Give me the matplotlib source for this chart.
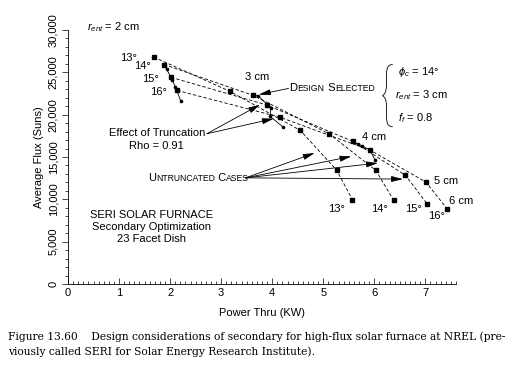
import numpy as np
import matplotlib
matplotlib.use("Agg")
import matplotlib.pyplot as plt
from matplotlib.path import Path
from matplotlib.patches import PathPatch
from matplotlib.offsetbox import TextArea, HPacker, AnnotationBbox
from matplotlib.ticker import MultipleLocator, FuncFormatter

plt.rcParams['font.family'] = ['Liberation Sans', 'DejaVu Sans']
plt.rcParams['mathtext.fontset'] = 'custom'
plt.rcParams['mathtext.rm'] = 'Liberation Sans'
plt.rcParams['mathtext.it'] = 'Liberation Sans:italic'

# untruncated cases: power (kW) and flux (suns) for r_ent = 2..6 cm
angles = ['13°', '14°', '15°', '16°']
r_ent = [2, 3, 4, 5, 6]
power = {
    '13°': [1.68, 3.17, 4.55, 5.26, 5.57],
    '14°': [1.88, 3.63, 5.12, 6.03, 6.38],
    '15°': [2.02, 3.89, 5.58, 6.61, 7.03],
    '16°': [2.14, 4.15, 5.92, 7.01, 7.43],
}
flux = {
    '13°': [26800, 22760, 18140, 13460, 9980],
    '14°': [25920, 22270, 17720, 13420, 9880],
    '15°': [24410, 21150, 16840, 12840, 9500],
    '16°': [22860, 19700, 15800, 12040, 8850],
}

# truncated cases (rho = 0.91)
trunc_x = {
    2: [1.88, 1.93, 2.04, 2.10, 2.21],
    3: [3.63, 3.72, 3.97, 3.96, 4.21],
    4: [5.58, 5.69, 5.76, 5.92, 6.01],
}
trunc_y = {
    2: [25920, 25380, 24140, 23310, 21570],
    3: [22270, 22250, 20790, 19800, 18540],
    4: [16840, 16510, 16330, 15800, 14670],
}

fig = plt.figure(figsize=(5.06, 3.73), dpi=100)
ax = fig.add_axes([68/506, 1-284/373, (456-68)/506, (284-30)/373])

for a in angles:
    ax.plot(power[a], flux[a], color='k', lw=0.6, dashes=(4, 2.5),
            marker='s', ms=3.3, mfc='k', mec='k')

for r in trunc_x:
    ax.plot(trunc_x[r], trunc_y[r], color='k', lw=0.6, marker='o', ms=1.6)

ax.set_xlim(0, 7.6)
ax.set_ylim(0, 30000)
ax.spines['top'].set_visible(False)
ax.spines['right'].set_visible(False)
ax.spines['left'].set_linewidth(0.6)
ax.spines['bottom'].set_linewidth(0.6)
ax.xaxis.set_major_locator(MultipleLocator(1))
ax.xaxis.set_minor_locator(MultipleLocator(0.1))
ax.yaxis.set_major_locator(MultipleLocator(5000))
ax.yaxis.set_minor_locator(MultipleLocator(1000))
ax.yaxis.set_major_formatter(FuncFormatter(lambda v, p: f'{int(v):,}'))
ax.tick_params(which='both', width=0.5, labelsize=8, pad=3)
ax.tick_params(which='major', length=4)
ax.tick_params(which='minor', length=2.5)
ax.tick_params(axis='x', which='both', direction='in')
for lab in ax.get_yticklabels():
    lab.set_rotation(90)
    lab.set_va('center')
ax.set_xlabel('Power Thru (KW)', fontsize=8, labelpad=7)
ax.set_ylabel('Average Flux (Suns)', fontsize=8, labelpad=3)

tx = dict(fontsize=8, color='k')
# angle labels
ax.text(1.35, 26710, '13°', ha='right', va='center', **tx)
ax.text(1.62, 25720, '14°', ha='right', va='center', **tx)
ax.text(1.78, 24220, '15°', ha='right', va='center', **tx)
ax.text(1.94, 22720, '16°', ha='right', va='center', **tx)
ax.text(5.26, 8840, '13°', ha='center', va='center', **tx)
ax.text(6.11, 8840, '14°', ha='center', va='center', **tx)
ax.text(6.77, 8840, '15°', ha='center', va='center', **tx)
ax.text(7.22, 8050, '16°', ha='center', va='center', **tx)
ax.text(3.70, 24460, '3 cm', ha='center', va='center', **tx)
ax.text(5.75, 17360, '4 cm', ha='left', va='center', **tx)
ax.text(7.16, 12220, '5 cm', ha='left', va='center', **tx)
ax.text(7.46, 9860, '6 cm', ha='left', va='center', **tx, clip_on=False)
ax.text(0.37, 30380, r'$r_{ent}$ = 2 cm', ha='left', va='center', **tx)

ax.text(1.64, 8170, 'SERI SOLAR FURNACE', ha='center', va='center', **tx)
ax.text(1.64, 6710, 'Secondary Optimization', ha='center', va='center', **tx)
ax.text(1.64, 5290, '23 Facet Dish', ha='center', va='center', **tx)

ax.text(6.46, 25010, r'$\phi_c$ = 14°', ha='left', va='center', **tx)
ax.text(6.40, 22370, r'$r_{ent}$ = 3 cm', ha='left', va='center', **tx)
ax.text(6.46, 19610, r'$f_f$ = 0.8', ha='left', va='center', **tx)

# curly brace
bx, bw, b0, b1 = 6.16, 0.2, 18580, 25920
bm = (b0 + b1) / 2
h = b1 - b0
verts = [(bx+bw, b1), (bx+bw*0.3, b1), (bx+bw*0.4, b1-0.12*h), (bx+bw*0.4, bm+0.2*h),
         (bx+bw*0.4, bm+0.05*h), (bx+bw*0.2, bm+0.02*h), (bx, bm),
         (bx+bw*0.2, bm-0.02*h), (bx+bw*0.4, bm-0.05*h), (bx+bw*0.4, bm-0.2*h),
         (bx+bw*0.4, b0+0.12*h), (bx+bw*0.3, b0), (bx+bw, b0)]
codes = [Path.MOVETO] + [Path.CURVE4]*12
ax.add_patch(PathPatch(Path(verts, codes), fc='none', ec='k', lw=0.6, clip_on=False))

arw = dict(arrowstyle='-|>,head_length=0.7,head_width=0.18', color='k', lw=0.6,
           shrinkA=0, shrinkB=0)

def smallcaps(s, big=8, small=6.2):
    parts = []
    for i, w in enumerate(s.split(' ')):
        first = (' ' if i else '') + w[0]
        parts.append(TextArea(first, textprops=dict(size=big)))
        parts.append(TextArea(w[1:].upper(), textprops=dict(size=small)))
    return HPacker(children=parts, align='baseline', pad=0, sep=0)

ab = AnnotationBbox(smallcaps('Design Selected'), (4.34, 23160), frameon=False,
                    box_alignment=(0, 0.5), pad=0)
ax.add_artist(ab)
ax.annotate('', xy=(3.74, 22370), xytext=(4.32, 23100), arrowprops=arw)

ab = AnnotationBbox(smallcaps('Untruncated Cases'), (1.57, 12510), frameon=False,
                    box_alignment=(0, 0.5), pad=0)
ax.add_artist(ab)
for tip in [(4.83, 15470), (5.55, 15070), (6.07, 14280), (6.56, 12390)]:
    ax.annotate('', xy=tip, xytext=(3.48, 12540), arrowprops=arw)

ax.text(1.74, 17830, 'Effect of Truncation', ha='center', va='center', **tx)
ax.text(1.74, 16250, 'Rho = 0.91', ha='center', va='center', **tx)
for tip in [(3.76, 21180), (4.03, 19530)]:
    ax.annotate('', xy=tip, xytext=(2.72, 17750), arrowprops=arw)

cap = dict(fontsize=7.65, family='DejaVu Serif', color='k')
fig.text(8/506, 1-337/373, 'Figure 13.60    Design considerations of secondary for high-flux solar furnace at NREL (pre-',
         va='center', ha='left', **cap)
fig.text(8/506, 1-352/373, 'viously called SERI for Solar Energy Research Institute).',
         va='center', ha='left', **cap)

fig.savefig('out.png', dpi=100)
